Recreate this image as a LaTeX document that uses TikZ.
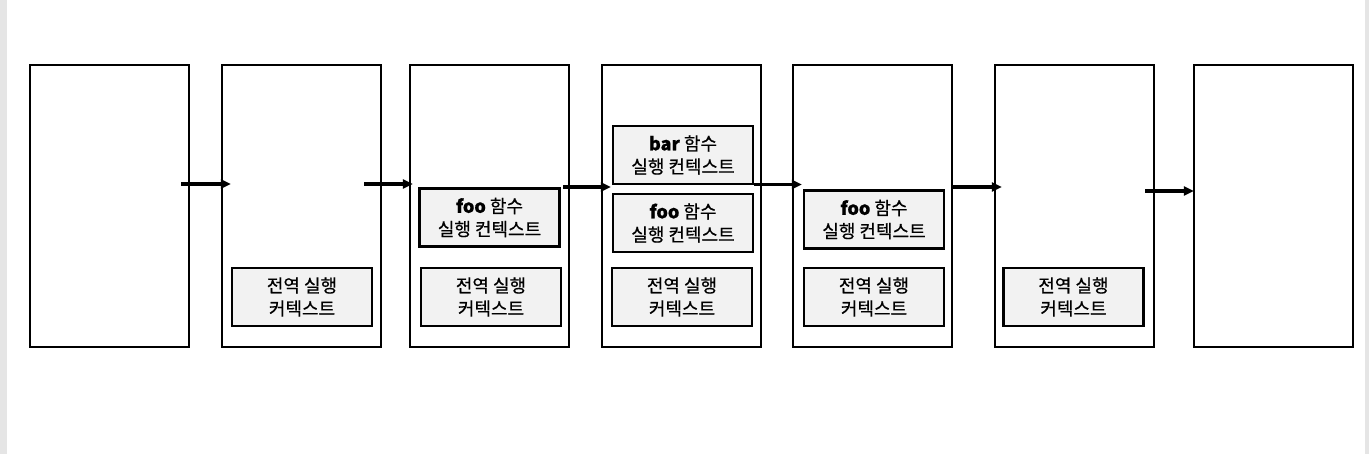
\documentclass[tikz,border=0pt]{standalone}
\usepackage{fontspec}
\setmainfont{Noto Sans CJK KR}[FakeBold=0.6]
\usetikzlibrary{arrows.meta,positioning}
\tikzset{
  stack/.style={
    draw,
    line width = 2.2pt,
    minimum width = 159pt,
    minimum height = 282pt,
    inner sep = 0pt
  },
  ctx/.style={
    draw,
    line width = 2.2pt,
    fill = black!5,
    minimum width = 140pt,
    minimum height = 58pt,
    inner sep = 0pt,
    align = center,
    font = \fontsize{18}{23}\selectfont
  },
  flow/.style={
    line width = 3.2pt,
    -{Triangle[length=10pt,width=9pt]}
  },
}

\begin{document}
\begin{tikzpicture}[x=1pt,y=-1pt]
  \useasboundingbox (0,0) rectangle (1369,454);
  \fill[black!10] (0,0) rectangle (7,454);
  \fill[black!10] (1365,0) rectangle (1369,454);
  % call stack snapshots
  \foreach \i/\x in {1/109.5,2/301.5,3/489.5,4/681.5,5/872.5,6/1074.5,7/1273.5}{
    \node[stack] (s\i) at (\x,206) {};
  }
  % execution contexts
  \node[ctx] (g2) at (302,297) {전역 실행\\커텍스트};
  \node[ctx] (f3) at (489.5,217.5) {\textbf{foo} 함수\\실행 컨텍스트};
  \node[ctx] (g3) at (491,297) {전역 실행\\커텍스트};
  \node[ctx] (b4) at (683,155) {\textbf{bar} 함수\\실행 컨텍스트};
  \node[ctx] (f4) at (683,223) {\textbf{foo} 함수\\실행 컨텍스트};
  \node[ctx] (g4) at (682,297) {전역 실행\\커텍스트};
  \node[ctx] (f5) at (874,219.5) {\textbf{foo} 함수\\실행 컨텍스트};
  \node[ctx] (g5) at (874,297) {전역 실행\\커텍스트};
  \node[ctx] (g6) at (1073.5,297) {전역 실행\\커텍스트};
  % transitions
  \foreach \a/\b/\u/\v/\dy in {1/2/-9/10/22, 2/3/-18/4/22, 3/4/-7/10/19,
                               4/5/-8/10/21.5, 5/6/0/8/19, 6/7/-10/1/15}{
    \draw[flow] ([xshift=\u pt,yshift=\dy pt]s\a.east)
      -- ([xshift=\v pt,yshift=\dy pt]s\b.west);
  }
\end{tikzpicture}
\end{document}
